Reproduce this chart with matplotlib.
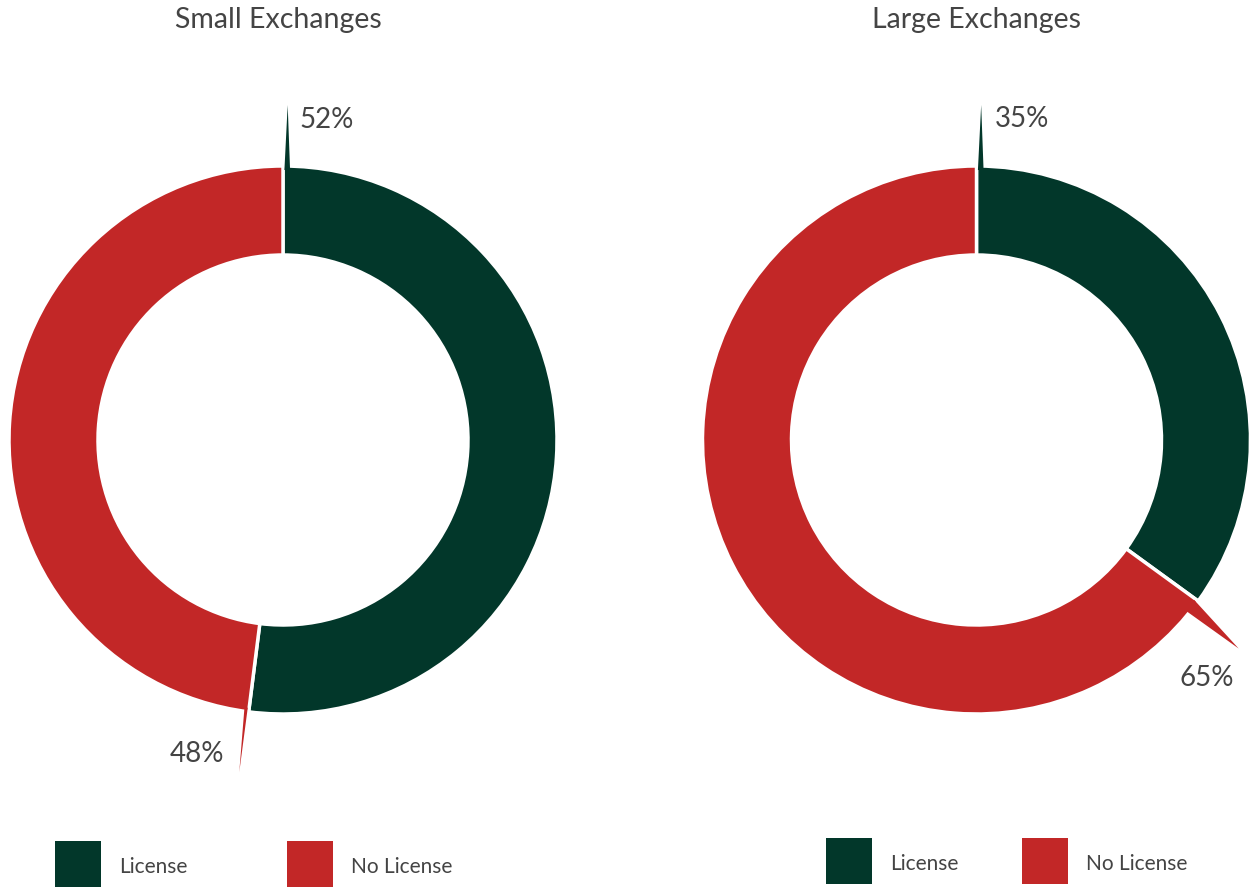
import numpy as np
import matplotlib.pyplot as plt
from matplotlib.patches import Polygon, Rectangle

# data
titles = ["Small Exchanges", "Large Exchanges"]
categories = ["License", "No License"]
small_values = [52, 48]
large_values = [35, 65]

green = "#02372A"
red = "#C22727"
text_col = "#444444"
colors = [green, red]

W, H = 1255, 888
fig = plt.figure(figsize=(W / 100, H / 100), dpi=100)
ax = fig.add_axes([0, 0, 1, 1])
plt.rcParams["font.family"] = ["Lato", "DejaVu Sans"]

R_OUT = 274
R_IN = 185
R_TIP = 335

# label offsets (dx, dy-down, ha) and tip angle offsets per callout
charts = [
    dict(values=small_values, center=(283, 448), title_x=278,
         offsets=[(12, 15, "left"), (-15, -18, "right")], tip_off=[0.8, 0.3],
         legend_x=[55, 287], legend_y=1),
    dict(values=large_values, center=(976.5, 448), title_x=977,
         offsets=[(14, 14, "left"), (-32, 29, "center")], tip_off=[0.8, 2.5],
         legend_x=[826, 1022], legend_y=4),
]


def pt(c, r, a_cw):
    t = np.deg2rad(90 - a_cw)
    return (c[0] + r * np.cos(t), c[1] + r * np.sin(t))


for ch, title in zip(charts, titles):
    vals = ch["values"]
    c = ch["center"]
    ax.pie(vals, colors=colors, center=c, radius=R_OUT, startangle=90,
           counterclock=False, frame=True,
           wedgeprops=dict(width=R_OUT - R_IN, edgecolor="white", linewidth=2.5))

    # callout wedges at the start of each slice
    start = 0.0
    for v, col, off, to in zip(vals, colors, ch["offsets"], ch["tip_off"]):
        a = start + to
        base1 = pt(c, R_OUT - 4, start + 0.3)
        base2 = pt(c, R_OUT - 4, a + 0.7)
        tip = pt(c, R_TIP, a)
        ax.add_patch(Polygon([base1, tip, base2], closed=True, facecolor=col,
                             edgecolor="none", zorder=3))
        ax.text(tip[0] + off[0], tip[1] - off[1], f"{v}%", fontsize=20,
                color=text_col, ha=off[2], va="center")
        start += v / 100 * 360

    ax.text(ch["title_x"], H - 20, title, fontsize=20.5, color=text_col,
            ha="center", va="center")

    for lx, col, name in zip(ch["legend_x"], colors, categories):
        ax.add_patch(Rectangle((lx, ch["legend_y"]), 46, 46, facecolor=col,
                               edgecolor="none"))
        ax.text(lx + 64, ch["legend_y"] + 20, name, fontsize=15,
                color=text_col, ha="left", va="center")

ax.set_xlim(0, W)
ax.set_ylim(0, H)
ax.set_aspect("equal")
ax.axis("off")
fig.savefig("out.png", dpi=100, facecolor="white")
